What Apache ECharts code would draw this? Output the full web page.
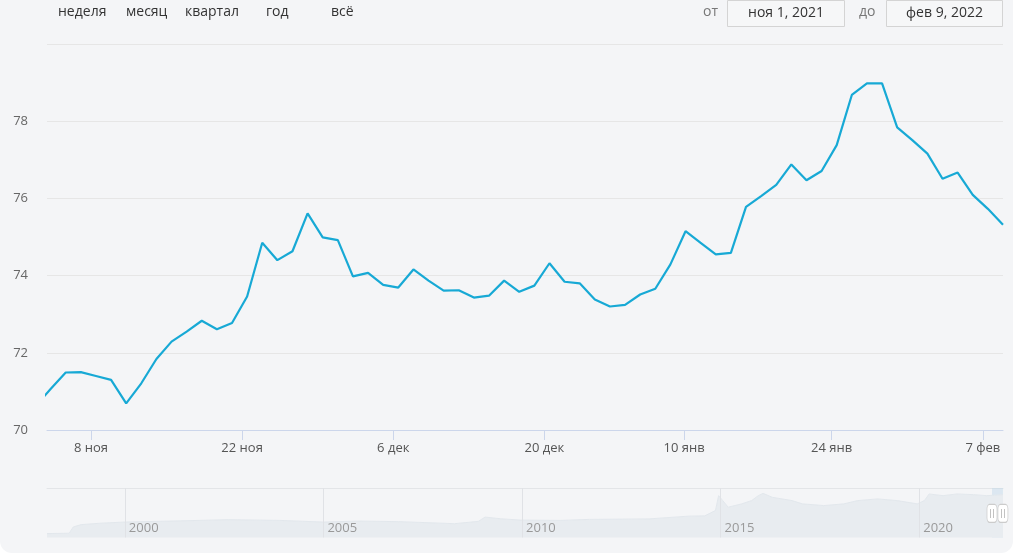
<!DOCTYPE html>
<html><head><meta charset="utf-8">
<script src="https://cdn.jsdelivr.net/npm/echarts@6/dist/echarts.min.js"></script>
<style>
html,body{margin:0;padding:0;background:#fff;overflow:hidden;}
#panel{position:absolute;left:0;top:0;width:1013px;height:553px;background:#f4f5f7;border-radius:0 0 12px 12px;}
#chart{position:absolute;left:0;top:0;width:1015px;height:556px;}
</style></head><body>
<div id="panel"></div>
<div id="chart"></div>
<script>
// ---- main series (USD/RUB daily) ----
const dates = [
 '2021-11-02','2021-11-03','2021-11-05','2021-11-06','2021-11-09','2021-11-10','2021-11-11','2021-11-12','2021-11-13',
 '2021-11-16','2021-11-17','2021-11-18','2021-11-19','2021-11-20','2021-11-23','2021-11-24','2021-11-25','2021-11-26','2021-11-27',
 '2021-11-30','2021-12-01','2021-12-02','2021-12-03','2021-12-04','2021-12-07','2021-12-08','2021-12-09','2021-12-10','2021-12-11',
 '2021-12-14','2021-12-15','2021-12-16','2021-12-17','2021-12-18','2021-12-21','2021-12-22','2021-12-23','2021-12-24','2021-12-25',
 '2021-12-28','2021-12-29','2021-12-30','2021-12-31','2022-01-11','2022-01-12','2022-01-13','2022-01-14','2022-01-15',
 '2022-01-18','2022-01-19','2022-01-20','2022-01-21','2022-01-22','2022-01-25','2022-01-26','2022-01-27','2022-01-28','2022-01-29',
 '2022-02-01','2022-02-02','2022-02-03','2022-02-04','2022-02-05','2022-02-08','2022-02-09'
];
const rates = [
 70.62,71.06,71.49,71.50,71.40,71.30,70.69,71.21,71.84,
 72.29,72.55,72.83,72.61,72.77,73.46,74.85,74.40,74.63,75.61,
 74.99,74.92,73.98,74.07,73.76,73.69,74.16,73.87,73.61,73.62,
 73.43,73.48,73.87,73.58,73.74,74.32,73.84,73.80,73.38,73.20,
 73.24,73.51,73.66,74.29,75.15,74.85,74.55,74.59,75.78,
 76.06,76.35,76.88,76.47,76.71,77.38,78.68,78.98,78.98,77.84,
 77.51,77.16,76.51,76.67,76.09,75.73,75.32
];
const tickDates = ['2021-11-08','2021-11-22','2021-12-06','2021-12-20','2022-01-10','2022-01-24','2022-02-07'];
const tickLabels = ['8 ноя','22 ноя','6 дек','20 дек','10 янв','24 янв','7 фев'];
const yMin = 70, yMax = 80, yStep = 2;

// ---- navigator (long history) ----
const navYears = [1998.04,1998.6,1998.7,1998.9,1999.4,2000.0,2001.4,2002.6,2003.9,2005.0,2005.9,2006.9,2008.3,2008.9,
 2009.07,2009.45,2009.95,2010.96,2011.7,2013.2,2014.2,2014.6,2014.87,2014.95,2015.05,2015.19,2015.53,2015.78,2015.95,
 2016.07,2016.3,2016.8,2017.06,2017.6,2018.1,2018.45,2018.95,2019.45,2019.95,2020.13,2020.25,2020.6,2020.95,2021.37,2021.7,2022.11];
const navValues = [7.0,7.6,18.7,22.9,25.5,27.5,29.6,31.7,30.4,27.5,29.2,28.2,24.6,28.7,
 36.3,33.4,31.0,30.4,32.2,33.1,38.0,38.5,48.0,74.4,66.0,53.9,59.8,65.6,74.4,
 78.5,71.5,65.6,59.8,56.8,59.8,65.6,68.6,65.6,59.8,65.6,77.4,74.4,77.4,76.2,74.4,76.2];
const navYearTicks = [2000,2005,2010,2015,2020];
const selFrom = 2021.833, selTo = 2022.108;

// ---- toolbar texts ----
const rangeButtons = ['неделя','месяц','квартал','год','всё'];
const fromLabel = 'от', toLabel = 'до';
const fromDate = 'ноя 1, 2021', toDate = 'фев 9, 2022';

// ---- build ----
const FONT = '"Open Sans", "Noto Sans", sans-serif';
const ms = d => Date.parse(d + 'T00:00:00Z');
const dMs = dates.map(ms);
const tickPos = tickDates.map(t => {
  const tm = ms(t);
  for (let k = 0; k < dMs.length - 1; k++) {
    if (tm >= dMs[k] && tm < dMs[k + 1]) return k + (tm - dMs[k]) / (dMs[k + 1] - dMs[k]);
  }
  return dMs.length - 1;
});
const mainData = rates.map((v, i) => [i, v]);
const navData = navYears.map((y, i) => [y, navValues[i]]);

const btnX = [58,126,185,266,331];
const graphics = rangeButtons.map((t, i) => ({
  type: 'text', left: btnX[i], top: 5,
  style: { text: t, fill: '#333', font: '14px ' + FONT }
}));
graphics.push(
  { type: 'text', left: 703, top: 5, style: { text: fromLabel, fill: '#777', font: '14px ' + FONT } },
  { type: 'rect', shape: { x: 727.5, y: 0.5, width: 117, height: 26 }, style: { fill: '#f6f7f8', stroke: '#d4d4d4', lineWidth: 1 } },
  { type: 'text', x: 786, y: 13, style: { text: fromDate, fill: '#333', font: '14px ' + FONT, align: 'center', verticalAlign: 'middle' } },
  { type: 'text', left: 859, top: 5, style: { text: toLabel, fill: '#777', font: '14px ' + FONT } },
  { type: 'rect', shape: { x: 886.5, y: 0.5, width: 116, height: 26 }, style: { fill: '#f6f7f8', stroke: '#d4d4d4', lineWidth: 1 } },
  { type: 'text', x: 944.5, y: 13, style: { text: toDate, fill: '#333', font: '14px ' + FONT, align: 'center', verticalAlign: 'middle' } }
);

const chart = echarts.init(document.getElementById('chart'), null, { renderer: 'canvas' });
chart.setOption({
  animation: false,
  backgroundColor: 'transparent',
  textStyle: { fontFamily: FONT },
  graphic: graphics,
  grid: [
    { left: 47, right: 12, top: 44, bottom: 126 },
    { left: 47, right: 12, top: 488, height: 49.5 }
  ],
  xAxis: [
    {
      type: 'value', gridIndex: 0, min: 0.762, max: 64,
      splitLine: { show: false },
      axisLine: { show: true, lineStyle: { color: '#ccd6eb', width: 1 } },
      axisTick: { show: true, customValues: tickPos, length: 10, lineStyle: { color: '#ccd6eb' } },
      axisLabel: {
        customValues: tickPos, color: '#555', fontSize: 13, margin: 12, fontFamily: FONT,
        formatter: v => { let b = 0; tickPos.forEach((p, i) => { if (Math.abs(p - v) < Math.abs(tickPos[b] - v)) b = i; }); return tickLabels[b]; }
      }
    },
    {
      type: 'value', gridIndex: 1, min: 1998.04, max: 2022.11, z: 5,
      axisLine: { show: false },
      axisTick: { show: false, customValues: navYearTicks },
      splitLine: { show: true, lineStyle: { color: '#e0e2e6', width: 1 } },
      axisLabel: {
        customValues: navYearTicks, inside: true, color: '#999', fontSize: 13, margin: 3, align: 'left',
        padding: [0, 0, 0, 4], fontFamily: FONT, formatter: v => String(Math.round(v))
      }
    },
    {
      type: 'value', gridIndex: 1, position: 'top', min: 1998.04, max: 2022.11,
      axisLine: { show: true, lineStyle: { color: '#e3e5e8' } },
      axisTick: { show: false }, axisLabel: { show: false }, splitLine: { show: false }
    }
  ],
  yAxis: [
    {
      type: 'value', gridIndex: 0, min: yMin, max: yMax, interval: yStep,
      axisLine: { show: false }, axisTick: { show: false },
      splitLine: { lineStyle: { color: '#e6e6e6', width: 1 } },
      axisLabel: { color: '#666', fontSize: 13, margin: 19, showMaxLabel: false, fontFamily: FONT }
    },
    {
      type: 'value', gridIndex: 1, min: 0, max: 88, show: false, splitLine: { show: false }
    }
  ],
  series: [
    {
      type: 'line', xAxisIndex: 0, yAxisIndex: 0, data: mainData, showSymbol: false,
      lineStyle: { color: '#17a9d5', width: 2.2 }, itemStyle: { color: '#17a9d5' }, clip: true, silent: true
    },
    {
      type: 'line', xAxisIndex: 1, yAxisIndex: 1, data: navData, showSymbol: false, silent: true, z: 1,
      lineStyle: { color: '#e2e7ec', width: 1 },
      areaStyle: { color: '#e8ecf0', opacity: 1 },
      markArea: {
        silent: true,
        itemStyle: { color: 'rgba(190,214,232,0.45)' },
        data: [[{ xAxis: selFrom, yAxis: 0 }, { xAxis: selTo, yAxis: 88 }]]
      },
      markPoint: {
        silent: true, z: 10,
        symbol: 'roundRect', symbolSize: [10, 18],
        itemStyle: { color: '#ffffff', borderColor: '#cccccc', borderWidth: 1 },
        label: { show: true, formatter: '||', color: '#b0b0b0', fontSize: 9, position: 'inside', fontFamily: 'DejaVu Sans' },
        data: [{ coord: [selFrom, 43] }, { coord: [selTo, 43] }]
      }
    }
  ]
});
</script>
</body></html>
